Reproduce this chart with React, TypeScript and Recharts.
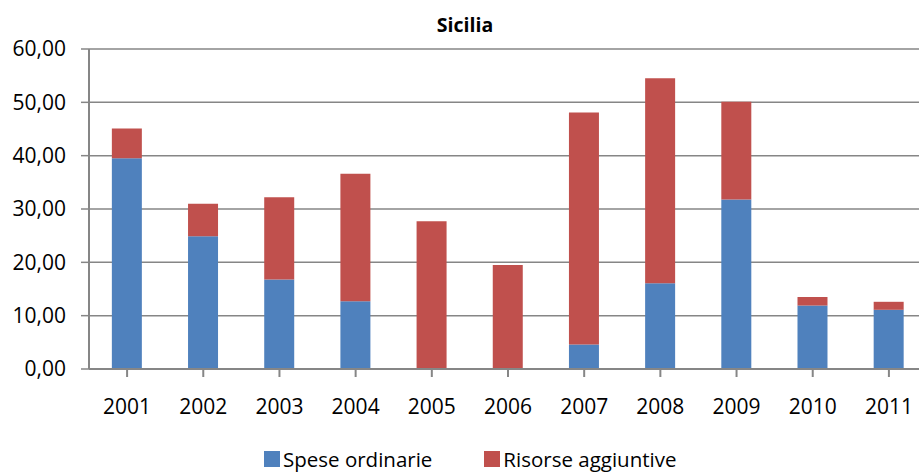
import React from 'react';
import { BarChart, Bar, XAxis, YAxis, CartesianGrid } from 'recharts';

const years = ['2001', '2002', '2003', '2004', '2005', '2006', '2007', '2008', '2009', '2010', '2011'];
const speseOrdinarie = [39.5, 24.9, 16.8, 12.7, 0, 0, 4.6, 16.1, 31.8, 11.9, 11.1];
const risorseAggiuntive = [5.6, 6.1, 15.4, 23.9, 27.7, 19.5, 43.5, 38.4, 18.3, 1.6, 1.5];
const yTicks = [0, 10, 20, 30, 40, 50, 60];

const BLUE = '#4F81BD';
const RED = '#C0504D';
const GRID = '#868686';
const FONT = '"Open Sans", sans-serif';

const data = years.map((year, i) => ({
  year,
  spese: speseOrdinarie[i],
  risorse: risorseAggiuntive[i],
}));

const legendItems = [
  { label: 'Spese ordinarie', color: BLUE },
  { label: 'Risorse aggiuntive', color: RED },
];

// legenda disegnata fuori dal grafico, così non sposta l'area del plot
const ChartLegend = () => (
  <div
    style={{
      position: 'absolute',
      left: 264,
      top: 448,
      display: 'flex',
      fontFamily: FONT,
      fontSize: 20.5,
      lineHeight: '22px',
      color: '#000',
    }}
  >
    {legendItems.map((item, i) => (
      <div key={item.label} style={{ display: 'flex', alignItems: 'center', marginRight: i === 0 ? 52 : 0 }}>
        <span style={{ width: 16, height: 16, background: item.color, marginRight: 3, display: 'inline-block' }} />
        <span>{item.label}</span>
      </div>
    ))}
  </div>
);

export default function App() {
  return (
    <div style={{ position: 'absolute', left: 0, top: 0, width: 919, height: 474, overflow: 'hidden', background: '#fff' }}>
      <BarChart
        width={930}
        height={474}
        data={data}
        barCategoryGap="30%"
        margin={{ top: 49, right: 3, left: 0, bottom: 65 }}
      >
        <text x={465} y={32} textAnchor="middle" fontFamily={FONT} fontSize={19.5} fontWeight="bold" fill="#000">
          Sicilia
        </text>
        <CartesianGrid vertical={false} stroke={GRID} strokeWidth={1.5} />
        <XAxis
          dataKey="year"
          stroke={GRID}
          strokeWidth={2}
          tickSize={8}
          tickMargin={22}
          tick={{ fill: '#000', fontFamily: FONT, fontSize: 21 }}
          tickLine={{ stroke: GRID, strokeWidth: 2 }}
          height={40}
        />
        <YAxis
          domain={[0, 60]}
          ticks={yTicks}
          interval={0}
          width={89}
          stroke={GRID}
          strokeWidth={2}
          tickSize={8}
          tickMargin={15}
          tickFormatter={(v: number) => v.toFixed(2).replace('.', ',')}
          tick={{ fill: '#000', fontFamily: FONT, fontSize: 21 }}
          tickLine={{ stroke: GRID, strokeWidth: 1.5 }}
        />
        <Bar dataKey="spese" stackId="a" fill={BLUE} isAnimationActive={false} />
        <Bar dataKey="risorse" stackId="a" fill={RED} isAnimationActive={false} />
      </BarChart>
      <ChartLegend />
    </div>
  );
}
